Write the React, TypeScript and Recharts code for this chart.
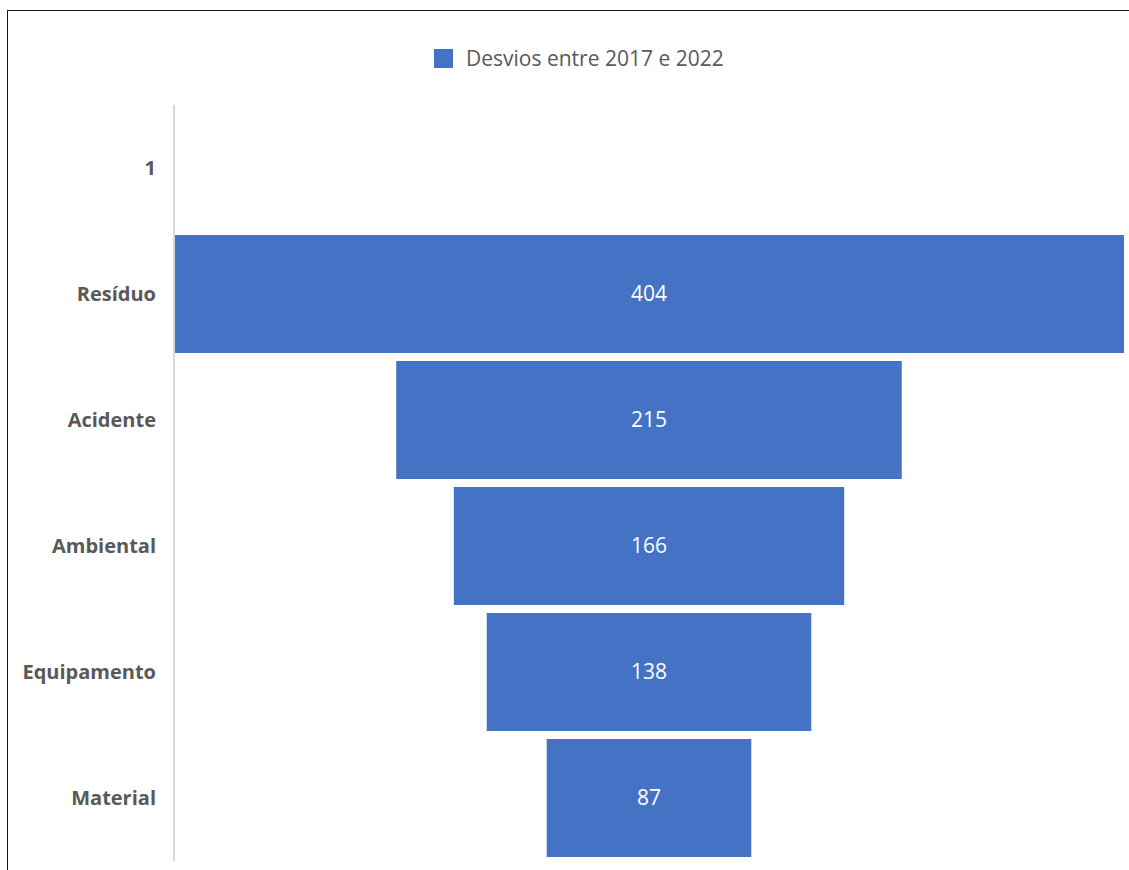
import { BarChart, Bar, XAxis, YAxis, LabelList } from "recharts"

const categories = ["1", "Resíduo", "Acidente", "Ambiental", "Equipamento", "Material"]
const values: (number | null)[] = [null, 404, 215, 166, 138, 87]
const seriesName = "Desvios entre 2017 e 2022"

const maxValue = Math.max(...values.map((v) => v ?? 0))

// funnel: an invisible pad bar pushes each real bar to the centre
const data = categories.map((name, i) => ({
  name,
  pad: values[i] == null ? null : (maxValue - (values[i] as number)) / 2,
  value: values[i],
}))

const FONT = "'Open Sans', Lato, sans-serif"
const TEXT = "#595959"
const BLUE = "#4472C4"

export default function App() {
  return (
    <div style={{ position: "absolute", left: 0, top: 0, width: 1129, height: 870, background: "#fff" }}>
      <div
        style={{
          position: "absolute",
          left: 7,
          top: 10,
          width: 1122,
          height: 860,
          borderTop: "1.5px solid #1a1a1a",
          borderLeft: "1.5px solid #1a1a1a",
        }}
      />
      <div
        style={{
          position: "absolute",
          left: 434,
          top: 43,
          display: "flex",
          alignItems: "center",
          fontFamily: FONT,
          fontSize: 21,
          color: TEXT,
          lineHeight: "30px",
        }}
      >
        <span style={{ display: "inline-block", width: 19, height: 19, background: BLUE, marginRight: 13 }} />
        <span>{seriesName}</span>
      </div>
      <div style={{ position: "absolute", left: 0, top: 0 }}>
        <BarChart
          width={1129}
          height={870}
          data={data}
          layout="vertical"
          margin={{ top: 105, right: 5, bottom: 9, left: 0 }}
          barCategoryGap={4}
        >
          <XAxis type="number" domain={[0, maxValue]} hide />
          <YAxis
            type="category"
            dataKey="name"
            width={174}
            axisLine={{ stroke: "#d9d9d9", strokeWidth: 2 }}
            tickLine={false}
            tickMargin={12}
            tick={{ fill: TEXT, fontSize: 20, fontWeight: 700, fontFamily: FONT }}
          />
          <Bar dataKey="pad" stackId="f" fill="transparent" isAnimationActive={false} legendType="none" />
          <Bar dataKey="value" stackId="f" fill={BLUE} name={seriesName} isAnimationActive={false}>
            <LabelList dataKey="value" position="center" fill="#ffffff" fontSize={21} fontFamily={FONT} />
          </Bar>
        </BarChart>
      </div>
    </div>
  )
}
